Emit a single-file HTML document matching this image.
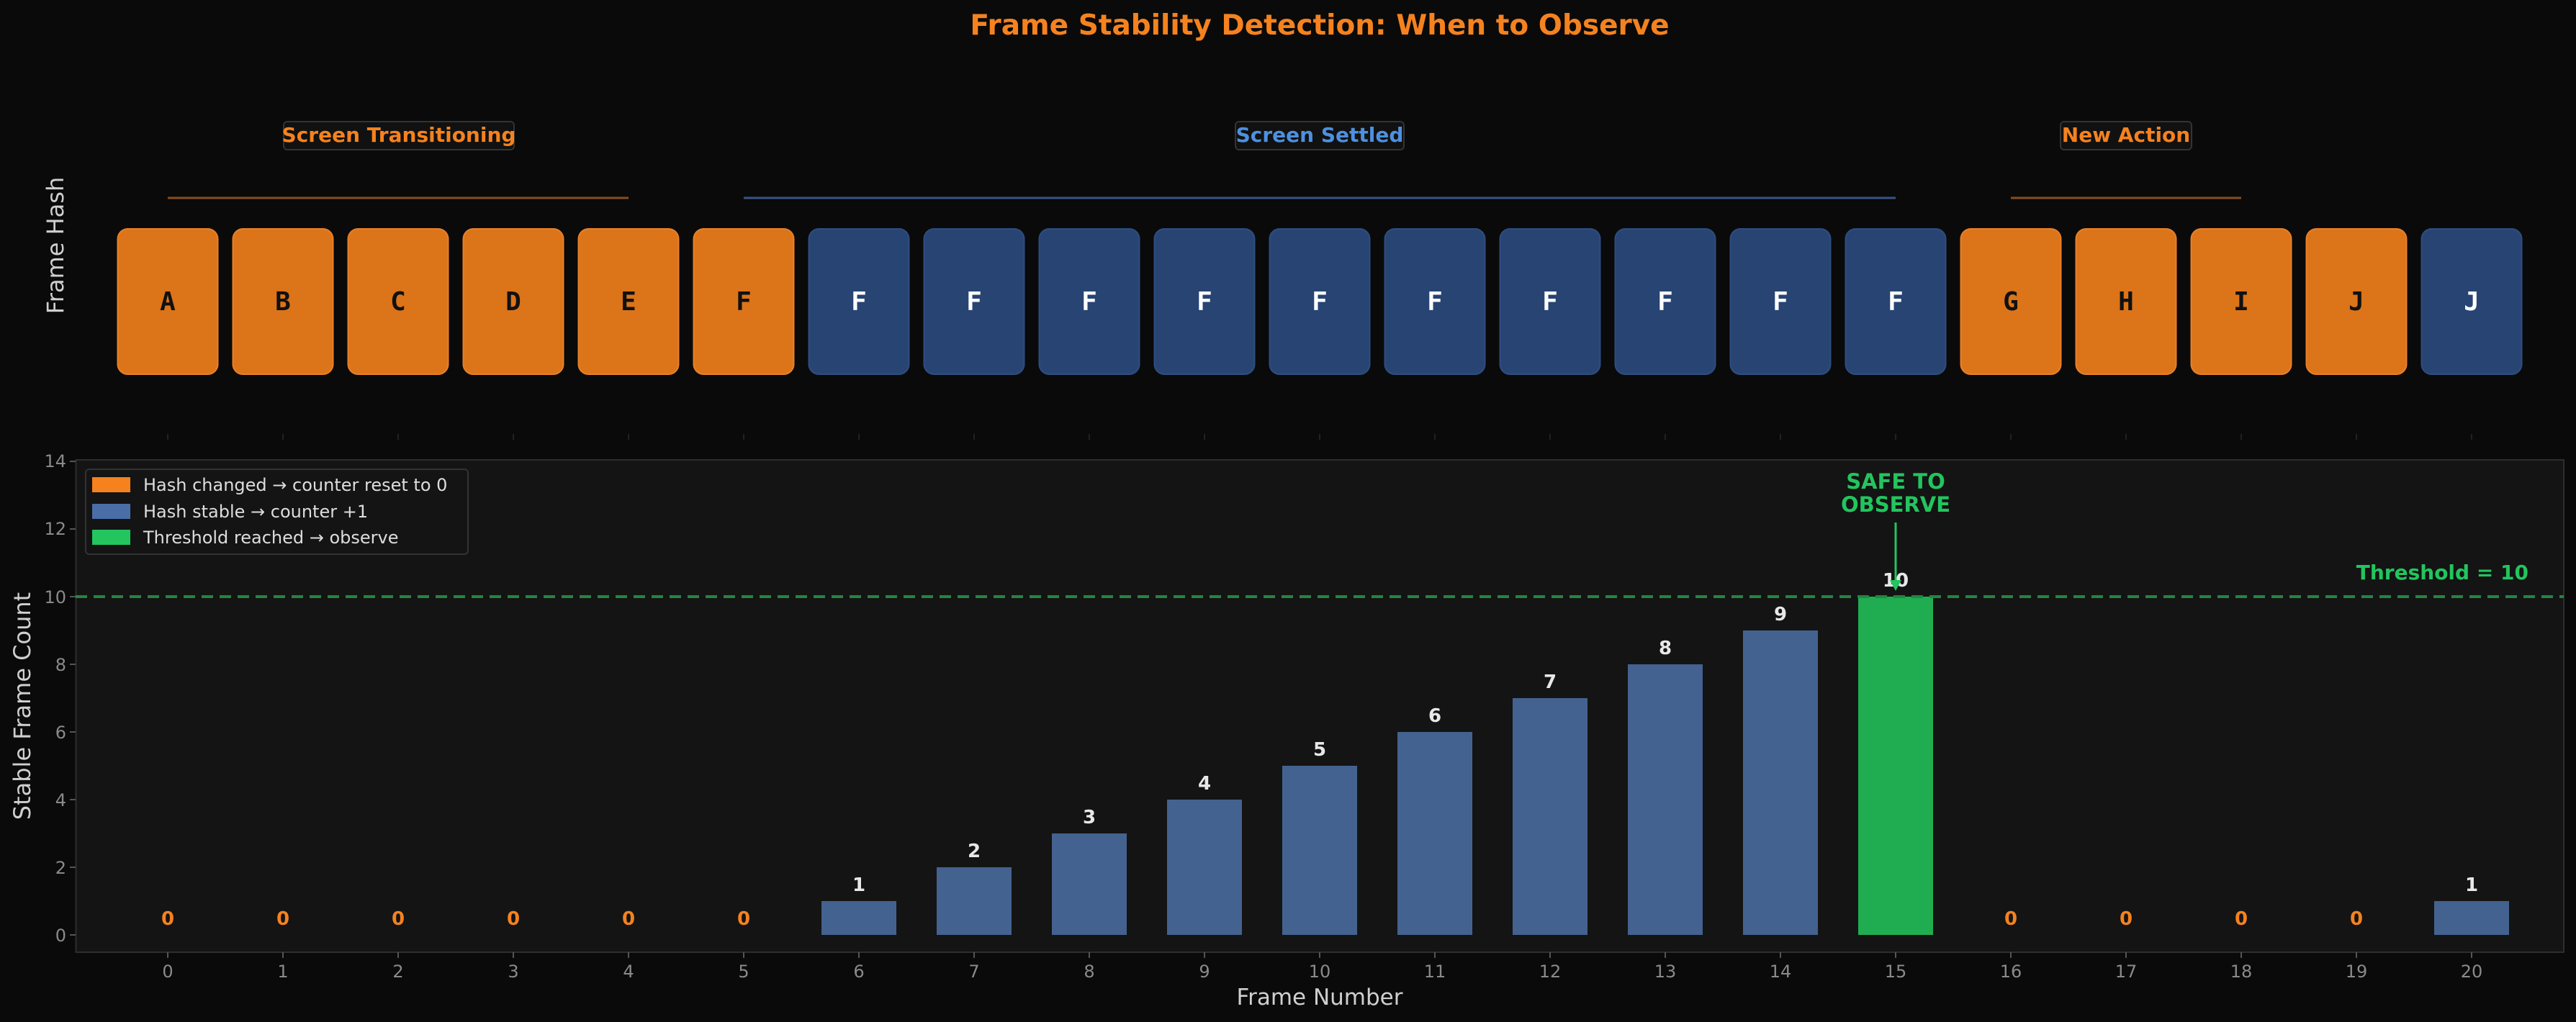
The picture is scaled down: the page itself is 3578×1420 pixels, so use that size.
<!DOCTYPE html>
<html><head><meta charset="utf-8"><style>
html,body{margin:0;padding:0;background:#0a0a0a;}
svg{display:block;}
text{font-family:"DejaVu Sans","Liberation Sans",sans-serif;}
.m{font-family:"DejaVu Sans Mono","Liberation Mono",monospace;font-weight:bold;font-size:36px;}
.tk{fill:#8a8a8a;font-size:24px;}
</style></head><body>
<svg width="3578" height="1420" viewBox="0 0 3578 1420" xmlns="http://www.w3.org/2000/svg">
<rect width="3578" height="1420" fill="#0a0a0a"/>
<text x="1833" y="48" text-anchor="middle" fill="#f5821f" font-size="39" font-weight="bold">Frame Stability Detection: When to Observe</text>
<text transform="translate(88,341) rotate(-90)" text-anchor="middle" fill="#cfcfcf" font-size="32">Frame Hash</text>
<g stroke-width="3">
<line x1="233" y1="275" x2="873" y2="275" stroke="#8a4d1c"/>
<line x1="1033" y1="275" x2="2633" y2="275" stroke="#36558a"/>
<line x1="2793" y1="275" x2="3113" y2="275" stroke="#8a4d1c"/>
</g>
<rect x="394" y="169" width="320" height="39" rx="5" fill="#111" stroke="#333" stroke-width="2"/>
<text x="554" y="197" text-anchor="middle" fill="#f5821f" font-size="28" font-weight="bold">Screen Transitioning</text>
<rect x="1716" y="169" width="234" height="39" rx="5" fill="#111" stroke="#333" stroke-width="2"/>
<text x="1833" y="197" text-anchor="middle" fill="#4d90e0" font-size="28" font-weight="bold">Screen Settled</text>
<rect x="2862" y="169" width="182" height="39" rx="5" fill="#111" stroke="#333" stroke-width="2"/>
<text x="2953" y="197" text-anchor="middle" fill="#f5821f" font-size="28" font-weight="bold">New Action</text>
<g id="boxes">
<rect x="163.5" y="318" width="139" height="202" rx="14" fill="#dc7419" stroke="#e8802a" stroke-width="2"/><text class="m" x="233" y="431" text-anchor="middle" fill="#111">A</text>
<rect x="323.5" y="318" width="139" height="202" rx="14" fill="#dc7419" stroke="#e8802a" stroke-width="2"/><text class="m" x="393" y="431" text-anchor="middle" fill="#111">B</text>
<rect x="483.5" y="318" width="139" height="202" rx="14" fill="#dc7419" stroke="#e8802a" stroke-width="2"/><text class="m" x="553" y="431" text-anchor="middle" fill="#111">C</text>
<rect x="643.5" y="318" width="139" height="202" rx="14" fill="#dc7419" stroke="#e8802a" stroke-width="2"/><text class="m" x="713" y="431" text-anchor="middle" fill="#111">D</text>
<rect x="803.5" y="318" width="139" height="202" rx="14" fill="#dc7419" stroke="#e8802a" stroke-width="2"/><text class="m" x="873" y="431" text-anchor="middle" fill="#111">E</text>
<rect x="963.5" y="318" width="139" height="202" rx="14" fill="#dc7419" stroke="#e8802a" stroke-width="2"/><text class="m" x="1033" y="431" text-anchor="middle" fill="#111">F</text>
<rect x="1123.5" y="318" width="139" height="202" rx="14" fill="#274473" stroke="#2f4d80" stroke-width="2"/><text class="m" x="1193" y="431" text-anchor="middle" fill="#fff">F</text>
<rect x="1283.5" y="318" width="139" height="202" rx="14" fill="#274473" stroke="#2f4d80" stroke-width="2"/><text class="m" x="1353" y="431" text-anchor="middle" fill="#fff">F</text>
<rect x="1443.5" y="318" width="139" height="202" rx="14" fill="#274473" stroke="#2f4d80" stroke-width="2"/><text class="m" x="1513" y="431" text-anchor="middle" fill="#fff">F</text>
<rect x="1603.5" y="318" width="139" height="202" rx="14" fill="#274473" stroke="#2f4d80" stroke-width="2"/><text class="m" x="1673" y="431" text-anchor="middle" fill="#fff">F</text>
<rect x="1763.5" y="318" width="139" height="202" rx="14" fill="#274473" stroke="#2f4d80" stroke-width="2"/><text class="m" x="1833" y="431" text-anchor="middle" fill="#fff">F</text>
<rect x="1923.5" y="318" width="139" height="202" rx="14" fill="#274473" stroke="#2f4d80" stroke-width="2"/><text class="m" x="1993" y="431" text-anchor="middle" fill="#fff">F</text>
<rect x="2083.5" y="318" width="139" height="202" rx="14" fill="#274473" stroke="#2f4d80" stroke-width="2"/><text class="m" x="2153" y="431" text-anchor="middle" fill="#fff">F</text>
<rect x="2243.5" y="318" width="139" height="202" rx="14" fill="#274473" stroke="#2f4d80" stroke-width="2"/><text class="m" x="2313" y="431" text-anchor="middle" fill="#fff">F</text>
<rect x="2403.5" y="318" width="139" height="202" rx="14" fill="#274473" stroke="#2f4d80" stroke-width="2"/><text class="m" x="2473" y="431" text-anchor="middle" fill="#fff">F</text>
<rect x="2563.5" y="318" width="139" height="202" rx="14" fill="#274473" stroke="#2f4d80" stroke-width="2"/><text class="m" x="2633" y="431" text-anchor="middle" fill="#fff">F</text>
<rect x="2723.5" y="318" width="139" height="202" rx="14" fill="#dc7419" stroke="#e8802a" stroke-width="2"/><text class="m" x="2793" y="431" text-anchor="middle" fill="#111">G</text>
<rect x="2883.5" y="318" width="139" height="202" rx="14" fill="#dc7419" stroke="#e8802a" stroke-width="2"/><text class="m" x="2953" y="431" text-anchor="middle" fill="#111">H</text>
<rect x="3043.5" y="318" width="139" height="202" rx="14" fill="#dc7419" stroke="#e8802a" stroke-width="2"/><text class="m" x="3113" y="431" text-anchor="middle" fill="#111">I</text>
<rect x="3203.5" y="318" width="139" height="202" rx="14" fill="#dc7419" stroke="#e8802a" stroke-width="2"/><text class="m" x="3273" y="431" text-anchor="middle" fill="#111">J</text>
<rect x="3363.5" y="318" width="139" height="202" rx="14" fill="#274473" stroke="#2f4d80" stroke-width="2"/><text class="m" x="3433" y="431" text-anchor="middle" fill="#fff">J</text>
</g>
<g stroke="#222" stroke-width="2">
<line x1="233" y1="603" x2="233" y2="611"/><line x1="393" y1="603" x2="393" y2="611"/><line x1="553" y1="603" x2="553" y2="611"/><line x1="713" y1="603" x2="713" y2="611"/><line x1="873" y1="603" x2="873" y2="611"/><line x1="1033" y1="603" x2="1033" y2="611"/><line x1="1193" y1="603" x2="1193" y2="611"/><line x1="1353" y1="603" x2="1353" y2="611"/><line x1="1513" y1="603" x2="1513" y2="611"/><line x1="1673" y1="603" x2="1673" y2="611"/><line x1="1833" y1="603" x2="1833" y2="611"/><line x1="1993" y1="603" x2="1993" y2="611"/><line x1="2153" y1="603" x2="2153" y2="611"/><line x1="2313" y1="603" x2="2313" y2="611"/><line x1="2473" y1="603" x2="2473" y2="611"/><line x1="2633" y1="603" x2="2633" y2="611"/><line x1="2793" y1="603" x2="2793" y2="611"/><line x1="2953" y1="603" x2="2953" y2="611"/><line x1="3113" y1="603" x2="3113" y2="611"/><line x1="3273" y1="603" x2="3273" y2="611"/><line x1="3433" y1="603" x2="3433" y2="611"/>
</g>
<rect x="105.5" y="639" width="3455.5" height="684" fill="#141414" stroke="#2e2e2e" stroke-width="2"/>
<g class="tk" text-anchor="end">
<text x="92" y="1308">0</text><text x="92" y="1214">2</text><text x="92" y="1120">4</text><text x="92" y="1026">6</text><text x="92" y="932">8</text><text x="92" y="838">10</text><text x="92" y="743">12</text><text x="92" y="649">14</text>
</g>
<g stroke="#555" stroke-width="2">
<line x1="97" y1="1299" x2="105" y2="1299"/><line x1="97" y1="1205" x2="105" y2="1205"/><line x1="97" y1="1111" x2="105" y2="1111"/><line x1="97" y1="1017" x2="105" y2="1017"/><line x1="97" y1="923" x2="105" y2="923"/><line x1="97" y1="829" x2="105" y2="829"/><line x1="97" y1="735" x2="105" y2="735"/><line x1="97" y1="641" x2="105" y2="641"/>
</g>
<text transform="translate(42,981) rotate(-90)" text-anchor="middle" fill="#cfcfcf" font-size="32">Stable Frame Count</text>
<g fill="#44628f">
<rect x="1141" y="1252" width="104" height="47"/>
<rect x="1301" y="1205" width="104" height="94"/>
<rect x="1461" y="1158" width="104" height="141"/>
<rect x="1621" y="1111" width="104" height="188"/>
<rect x="1781" y="1064" width="104" height="235"/>
<rect x="1941" y="1017" width="104" height="282"/>
<rect x="2101" y="970" width="104" height="329"/>
<rect x="2261" y="923" width="104" height="376"/>
<rect x="2421" y="876" width="104" height="423"/>
<rect x="3381" y="1252" width="104" height="47"/>
</g>
<rect x="2581" y="829" width="104" height="470" fill="#20ad52"/>
<line x1="105" y1="829" x2="3561" y2="829" stroke="#22873f" stroke-width="4" stroke-dasharray="16,9"/>
<g fill="#e8e8e8" font-size="26" font-weight="bold" text-anchor="middle">
<text x="1193" y="1238">1</text><text x="1353" y="1191">2</text><text x="1513" y="1144">3</text><text x="1673" y="1097">4</text><text x="1833" y="1050">5</text><text x="1993" y="1003">6</text><text x="2153" y="956">7</text><text x="2313" y="909">8</text><text x="2473" y="862">9</text><text x="2633" y="815">10</text><text x="3433" y="1238">1</text>
</g>
<g fill="#f5821f" font-size="26" font-weight="bold" text-anchor="middle">
<text x="233" y="1285">0</text><text x="393" y="1285">0</text><text x="553" y="1285">0</text><text x="713" y="1285">0</text><text x="873" y="1285">0</text><text x="1033" y="1285">0</text><text x="2793" y="1285">0</text><text x="2953" y="1285">0</text><text x="3113" y="1285">0</text><text x="3273" y="1285">0</text>
</g>
<text x="3512" y="805" text-anchor="end" fill="#22c55e" font-size="28" font-weight="bold">Threshold = 10</text>
<text x="2633" y="679" text-anchor="middle" fill="#22c55e" font-size="29" font-weight="bold">SAFE TO</text>
<text x="2633" y="711" text-anchor="middle" fill="#22c55e" font-size="29" font-weight="bold">OBSERVE</text>
<line x1="2633" y1="726" x2="2633" y2="808" stroke="#22c55e" stroke-width="3"/>
<polygon points="2625,806 2641,806 2633,821" fill="#22c55e"/>
<rect x="119" y="652" width="531" height="118" rx="5" fill="#141414" stroke="#333" stroke-width="2"/>
<rect x="128" y="663" width="53" height="21" fill="#f5821f"/>
<rect x="128" y="700" width="53" height="21" fill="#4a6ea8"/>
<rect x="128" y="736" width="53" height="21" fill="#22c55e"/>
<g fill="#dddddd" font-size="24">
<text x="199" y="682">Hash changed → counter reset to 0</text>
<text x="199" y="719">Hash stable → counter +1</text>
<text x="199" y="755">Threshold reached → observe</text>
</g>
<g stroke="#555" stroke-width="2">
<line x1="233" y1="1323" x2="233" y2="1331"/><line x1="393" y1="1323" x2="393" y2="1331"/><line x1="553" y1="1323" x2="553" y2="1331"/><line x1="713" y1="1323" x2="713" y2="1331"/><line x1="873" y1="1323" x2="873" y2="1331"/><line x1="1033" y1="1323" x2="1033" y2="1331"/><line x1="1193" y1="1323" x2="1193" y2="1331"/><line x1="1353" y1="1323" x2="1353" y2="1331"/><line x1="1513" y1="1323" x2="1513" y2="1331"/><line x1="1673" y1="1323" x2="1673" y2="1331"/><line x1="1833" y1="1323" x2="1833" y2="1331"/><line x1="1993" y1="1323" x2="1993" y2="1331"/><line x1="2153" y1="1323" x2="2153" y2="1331"/><line x1="2313" y1="1323" x2="2313" y2="1331"/><line x1="2473" y1="1323" x2="2473" y2="1331"/><line x1="2633" y1="1323" x2="2633" y2="1331"/><line x1="2793" y1="1323" x2="2793" y2="1331"/><line x1="2953" y1="1323" x2="2953" y2="1331"/><line x1="3113" y1="1323" x2="3113" y2="1331"/><line x1="3273" y1="1323" x2="3273" y2="1331"/><line x1="3433" y1="1323" x2="3433" y2="1331"/>
</g>
<g class="tk" text-anchor="middle">
<text x="233" y="1358">0</text><text x="393" y="1358">1</text><text x="553" y="1358">2</text><text x="713" y="1358">3</text><text x="873" y="1358">4</text><text x="1033" y="1358">5</text><text x="1193" y="1358">6</text><text x="1353" y="1358">7</text><text x="1513" y="1358">8</text><text x="1673" y="1358">9</text><text x="1833" y="1358">10</text><text x="1993" y="1358">11</text><text x="2153" y="1358">12</text><text x="2313" y="1358">13</text><text x="2473" y="1358">14</text><text x="2633" y="1358">15</text><text x="2793" y="1358">16</text><text x="2953" y="1358">17</text><text x="3113" y="1358">18</text><text x="3273" y="1358">19</text><text x="3433" y="1358">20</text>
</g>
<text x="1833" y="1396" text-anchor="middle" fill="#cfcfcf" font-size="31">Frame Number</text>
</svg>
</body></html>
